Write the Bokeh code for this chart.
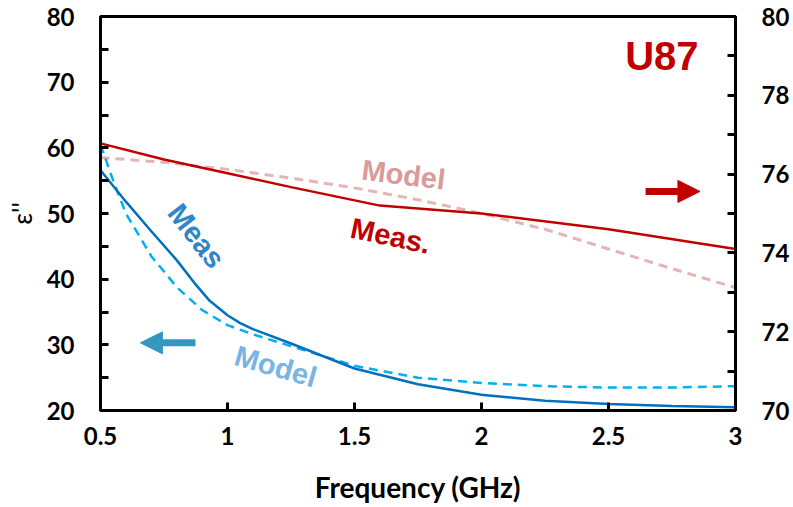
import numpy as np
from bokeh.plotting import figure
from bokeh.models import Range1d, LinearAxis, FixedTicker, Arrow, NormalHead, Label
from bokeh.embed import file_html
from bokeh.resources import INLINE

# data
freq_meas_blue = [0.5, 0.6, 0.7, 0.8, 0.87, 0.93, 1.0, 1.05, 1.1, 1.25, 1.5, 1.75, 2.0, 2.25, 2.5, 2.75, 3.0]
eps_meas_blue = [56.6, 51.8, 47.3, 42.9, 39.4, 36.7, 34.5, 33.3, 32.4, 30.2, 26.4, 24.0, 22.4, 21.5, 21.0, 20.7, 20.5]
freq_model_blue = [0.5, 0.55, 0.6, 0.7, 0.8, 0.9, 1.0, 1.1, 1.25, 1.5, 1.75, 2.0, 2.25, 2.5, 2.75, 3.0]
eps_model_blue = [60.5, 55.0, 50.0, 43.5, 38.8, 35.3, 33.0, 31.6, 29.8, 26.8, 25.0, 24.2, 23.7, 23.5, 23.5, 23.7]
freq_meas_red = [0.5, 0.75, 1.0, 1.25, 1.6, 2.0, 2.5, 3.0]
eps_meas_red = [76.78, 76.37, 76.02, 75.67, 75.2, 75.0, 74.6, 74.1]
freq_model_red = [0.5, 0.75, 1.0, 1.25, 1.5, 1.75, 2.0, 2.25, 2.5, 2.75, 3.0]
eps_model_red = [76.42, 76.3, 76.12, 75.9, 75.65, 75.35, 75.0, 74.6, 74.1, 73.6, 73.12]

x_ticks = [0.5, 1, 1.5, 2, 2.5, 3]
x_tick_labels = ["0.5", "1", "1.5", "2", "2.5", "3"]
left_ticks = [20, 30, 40, 50, 60, 70, 80]
right_ticks = [70, 72, 74, 76, 78, 80]

FONT = "Lato"
LFONT = "Liberation Sans"

p = figure(width=793, height=507, output_backend="svg", toolbar_location=None,
           x_range=Range1d(0.5, 3), y_range=Range1d(20, 80),
           min_border_left=100, min_border_right=58, min_border_top=16, min_border_bottom=97)
p.extra_y_ranges = {"right": Range1d(70, 80)}
p.grid.visible = False
p.outline_line_color = "black"
p.outline_line_width = 3
p.background_fill_color = "white"
p.border_fill_color = "white"

def style_axis(ax):
    ax.axis_line_width = 3
    ax.axis_line_color = "black"
    ax.major_tick_line_width = 3
    ax.minor_tick_line_width = 3
    ax.major_tick_out = 0
    ax.major_tick_in = 8
    ax.minor_tick_out = 0
    ax.minor_tick_in = 8
    ax.major_label_text_font = FONT
    ax.major_label_text_font_style = "bold"
    ax.major_label_text_font_size = "24px"
    ax.major_label_text_color = "black"
    ax.axis_label_text_font = FONT
    ax.axis_label_text_font_style = "bold"
    ax.axis_label_text_font_size = "28px"
    ax.axis_label_text_color = "black"

xa = p.xaxis[0]
style_axis(xa)
xa.ticker = FixedTicker(ticks=x_ticks)
xa.major_label_overrides = {t: l for t, l in zip(x_ticks, x_tick_labels)}
xa.minor_tick_in = 0
xa.major_label_standoff = 16
xa.axis_label = "Frequency (GHz)"
xa.axis_label_standoff = 22

ya = p.yaxis[0]
style_axis(ya)
ya.ticker = FixedTicker(ticks=left_ticks, minor_ticks=[25, 35, 45, 55, 65, 75])
ya.major_label_standoff = 26
ya.axis_label = "ε''"
ya.axis_label_text_font_style = "normal"
ya.axis_label_text_font_size = "26px"
ya.axis_label_standoff = 6

ra = LinearAxis(y_range_name="right")
style_axis(ra)
ra.ticker = FixedTicker(ticks=right_ticks, minor_ticks=[71, 73, 75, 77, 79])
ra.major_label_standoff = 26
p.add_layout(ra, "right")

# lines
p.line(freq_model_red, eps_model_red, y_range_name="right", line_color="#E6B4B4",
       line_width=3, line_dash="9 6")
p.line(freq_meas_red, eps_meas_red, y_range_name="right", line_color="#C00000", line_width=2.5)
p.line(freq_model_blue, eps_model_blue, line_color="#00B0F0", line_width=2.5, line_dash="9 6")
p.line(freq_meas_blue, eps_meas_blue, line_color="#0070C0", line_width=2.5)

# arrows
p.add_layout(Arrow(end=NormalHead(size=22, fill_color="#3497C0", line_color="#3497C0"),
                   x_start=0.874, y_start=30.3, x_end=0.657, y_end=30.3,
                   line_color="#3497C0", line_width=7))
p.add_layout(Arrow(end=NormalHead(size=22, fill_color="#C00000", line_color="#C00000"),
                   x_start=2.646, y_start=75.56, x_end=2.86, y_end=75.56, y_range_name="right",
                   line_color="#C00000", line_width=7))

def lab(x, y, txt, color, size, angle_deg, style="bold"):
    p.add_layout(Label(x=x, y=y, text=txt, text_color=color, text_font=LFONT,
                       text_font_style=style, text_font_size=size,
                       angle=np.deg2rad(angle_deg), text_align="center", text_baseline="middle"))

lab(2.71, 74.0, "U87", "#C00000", "40px", 0)
lab(1.693, 55.9, "Model", "#DA9A9A", "29px", -7)
lab(1.642, 46.6, "Meas.", "#C00000", "29px", -12)
lab(0.878, 46.6, "Meas", "#2E86C8", "29px", -52)
lab(1.19, 26.7, "Model", "#79B5E3", "29px", -16)

open("out.html", "w").write(file_html(p, INLINE))
